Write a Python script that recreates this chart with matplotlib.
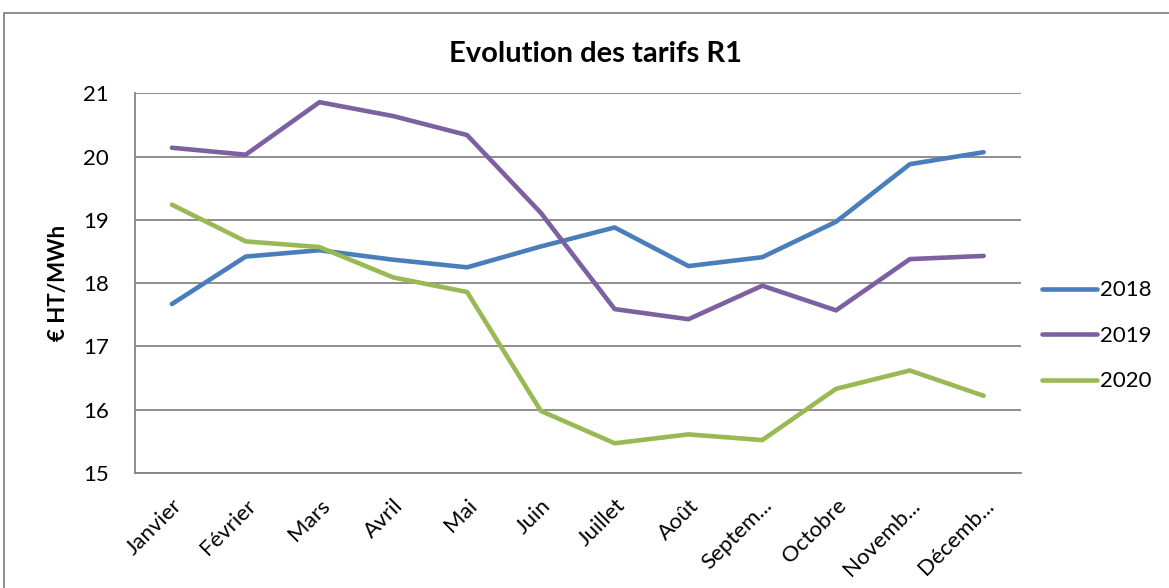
import matplotlib
matplotlib.use("Agg")
import matplotlib.pyplot as plt
from matplotlib.patches import Rectangle

# data
mois = ["Janvier", "Février", "Mars", "Avril", "Mai", "Juin", "Juillet",
        "Août", "Septem...", "Octobre", "Novemb...", "Décemb..."]
tarif_2018 = [17.67, 18.42, 18.52, 18.37, 18.25, 18.58, 18.88, 18.27, 18.41, 18.97, 19.88, 20.07]
tarif_2019 = [20.14, 20.03, 20.86, 20.64, 20.34, 19.11, 17.59, 17.43, 17.96, 17.57, 18.38, 18.43]
tarif_2020 = [19.24, 18.66, 18.57, 18.09, 17.86, 15.98, 15.47, 15.61, 15.52, 16.33, 16.62, 16.22]
annees = ["2018", "2019", "2020"]
couleurs = ["#4a7ebb", "#7d60a0", "#98b954"]

plt.rcParams['font.family'] = ['Lato', 'DejaVu Sans']

fig = plt.figure(figsize=(11.69, 5.88), dpi=100)
ax = fig.add_axes([0.1155, 0.1956, 0.7575, 0.6457])

x = list(range(len(mois)))
for serie, nom, c in zip([tarif_2018, tarif_2019, tarif_2020], annees, couleurs):
    ax.plot(x, serie, color=c, lw=3.3, label=nom, solid_capstyle='round')

ax.set_xlim(-0.5, len(mois) - 0.5)
ax.set_ylim(15, 21)
ax.set_yticks(range(15, 22))
ax.yaxis.grid(True, color='#868686', lw=1.3)
ax.set_axisbelow(True)
ax.set_xticks(x)
ax.set_xticklabels(mois, rotation=45, ha='right', rotation_mode='anchor')
ax.tick_params(axis='both', length=0, labelsize=16)
ax.tick_params(axis='x', pad=16)
ax.tick_params(axis='y', pad=19)

for s in ['top', 'right']:
    ax.spines[s].set_visible(False)
for s in ['left', 'bottom']:
    ax.spines[s].set_color('#868686')
    ax.spines[s].set_linewidth(1.3)

ax.set_ylabel("€ HT/MWh", fontsize=16, fontweight='bold', labelpad=10)

leg = ax.legend(loc='center left', bbox_to_anchor=(1.0237, 0.361), frameon=False,
                fontsize=16, handlelength=2.5, handletextpad=0.15, labelspacing=1.15,
                borderpad=0, borderaxespad=0)

fig.text(0.509, 0.909, "Evolution des tarifs R1", ha='center', va='center',
         fontsize=21, fontweight='bold')

# chart frame
fig.patches.append(Rectangle((4 / 1169, -0.1), 1.2, 1 - 13 / 588 + 0.1,
                             transform=fig.transFigure, fill=False,
                             edgecolor='#868686', lw=1.3))

fig.savefig("out.png", dpi=100)
